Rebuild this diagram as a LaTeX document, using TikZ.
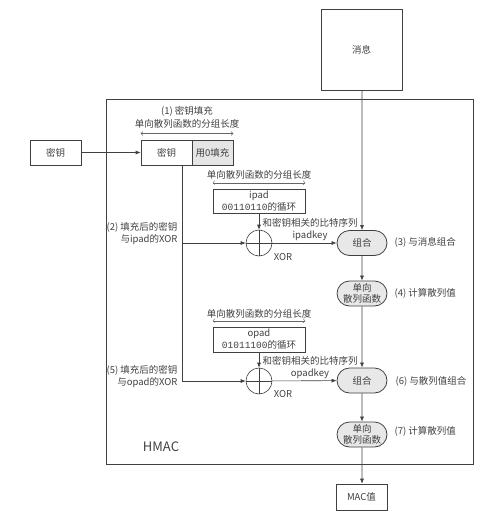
\documentclass[tikz,border=0pt]{standalone}
\usepackage{fontspec}
\setmainfont{Noto Sans CJK SC}
\setmonofont{Liberation Mono}
\usetikzlibrary{arrows.meta, shapes.misc, positioning}

\begin{document}
\begin{tikzpicture}[x=1pt,y=-1pt,
            every node/.style={align=center,text=black!75,font=\fontsize{9.5}{12}\selectfont},
            source/.style={draw=black!75, semithick, inner sep=0pt, minimum height=25pt},
            combine/.style={draw=black!75, thick, rounded rectangle, fill=gray!18, inner sep=0pt, minimum width=50pt, minimum height=25pt},
            xor/.style={draw=black!75, semithick, circle, minimum size=26pt, inner sep=0pt},
            to/.style={-{Latex[length=5pt,width=4pt]},semithick,draw=black!75},
            len/.style={{Straight Barb[length=2pt,width=4pt]}-{Straight Barb[length=2pt,width=4pt]},thin,draw=black!60}]
        \useasboundingbox (0,0) rectangle (494,513);

        % HMAC frame
        \node[draw=black!75, semithick, minimum width=367pt, minimum height=365pt, inner sep=0pt] (F) at (289.5,281.5) {};
        \node[font=\fontsize{13}{13}\selectfont] (Ft) at (161,447) {HMAC};

        \node[source, minimum width=81pt, minimum height=81pt] (M) at (361.5,49.5) {消息};
        \node[source, minimum width=51pt] (K) at (55.5,152.5) {密钥};
        \node[source, minimum width=51pt] (P) at (166.5,152.5) {密钥};
        \node[source, minimum width=41pt, fill=gray!20] (Z) at (212.5,152.5) {用0填充};
        \node (Pt) at (187,111) {(1) 密钥填充};
        \node (Pl) at (187,124) {单向散列函数的分组长度};
        \draw[len] ([yshift=19pt]P.west) -- ([yshift=19pt]Z.east);

        % ipad
        \node[source, minimum width=92pt, minimum height=24pt] (I) at (259,201) {ipad\\\texttt{00110110}的循环};
        \node (Il) at (259,175) {单向散列函数的分组长度};
        \draw[len] ([yshift=6pt]I.north west) -- ([yshift=6pt]I.north east);
        \node[xor] (X1) at (259,243) {};
        \draw[semithick,draw=black!75] (X1.north) -- (X1.south) (X1.west) -- (X1.east);
        \node (X1t) at (283,257) {XOR};
        \node (Ik) at (310,230) {和密钥相关的比特序列\\ipadkey};
        \node[combine] (C1) at (362,243) {组合};
        \node[anchor=west] (C1t) at (391,242) {(3) 与消息组合};
        \node[combine] (H1) at (362,293.5) {单向\\[-1pt]散列函数};
        \node[anchor=west] (H1t) at (391,293) {(4) 计算散列值};

        % opad
        \node[source, minimum width=92pt, minimum height=25pt] (O) at (259,339.5) {opad\\\texttt{01011100}的循环};
        \node (Ol) at (259,314) {单向散列函数的分组长度};
        \draw[len] ([yshift=6pt]O.north west) -- ([yshift=6pt]O.north east);
        \node[xor] (X2) at (259,381) {};
        \draw[semithick,draw=black!75] (X2.north) -- (X2.south) (X2.west) -- (X2.east);
        \node (X2t) at (283,394) {XOR};
        \node (Ok) at (310,368) {和密钥相关的比特序列\\opadkey};
        \node[combine] (C2) at (362,380.5) {组合};
        \node[anchor=west] (C2t) at (392,381) {(6) 与散列值组合};
        \node[combine] (H2) at (362,434.5) {单向\\[-1pt]散列函数};
        \node[anchor=west] (H2t) at (391,431) {(7) 计算散列值};

        \node[source, minimum width=51pt, minimum height=26pt] (D) at (361.5,497) {MAC值};

        \coordinate (s) at ([xshift=15.5pt]P.south);
        \node[anchor=east, align=right] (St1) at (181,234) {(2) 填充后的密钥\\与ipad的XOR};
        \node[anchor=east, align=right] (St2) at (181,377) {(5) 填充后的密钥\\与opad的XOR};

        \draw[to] (K) -- (P);
        \draw[to] (s) |- (X1);
        \draw[to] (s) |- (X2);
        \draw[to] (I) -- (X1);
        \draw[to] (O) -- (X2);
        \draw[to] (X1) -- (C1);
        \draw[to] (X2) -- (C2);
        \draw[to] (M.south -| C1.north) -- (C1);
        \draw[to] (C1) -- (H1);
        \draw[to] (H1) -- (C2);
        \draw[to] (C2) -- (H2);
        \draw[to] (H2) -- (H2 |- D.north);
    \end{tikzpicture}
\end{document}
